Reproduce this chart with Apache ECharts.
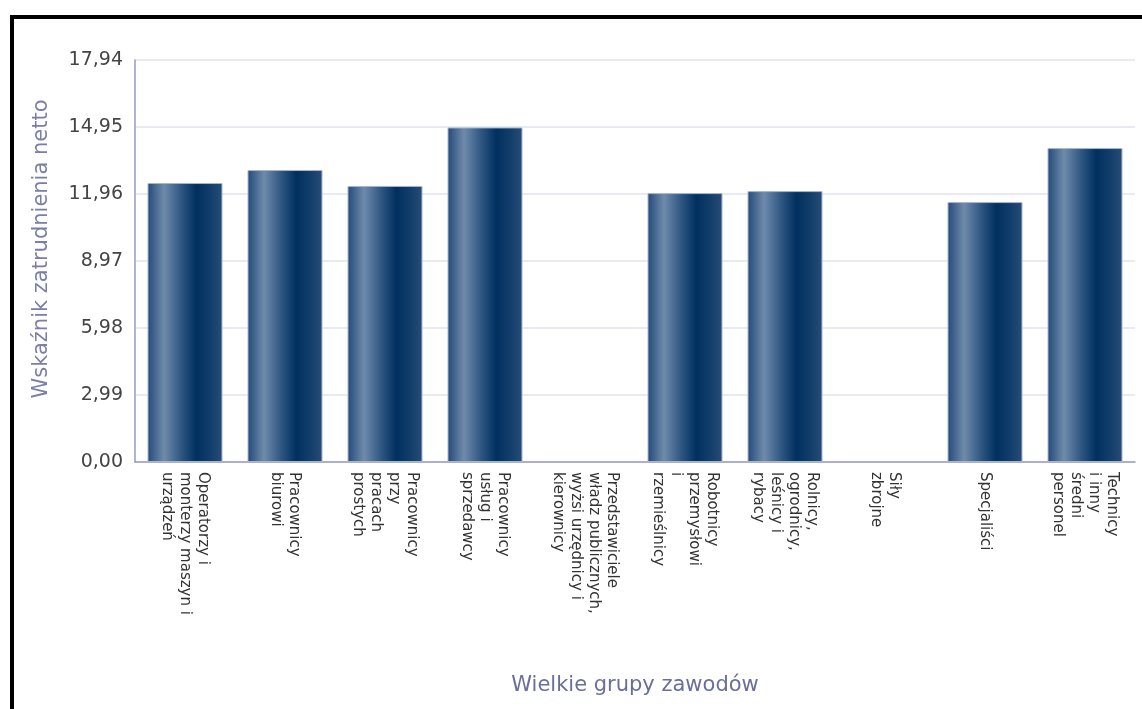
<!DOCTYPE html>
<html><head><meta charset="utf-8">
<script src="https://cdn.jsdelivr.net/npm/echarts@6/dist/echarts.min.js"></script>
<style>
html,body{margin:0;padding:0;background:#fff;overflow:hidden;}
#frame{position:absolute;left:10px;top:15px;width:1300px;height:900px;border:4px solid #000;box-sizing:border-box;pointer-events:none;z-index:2;}
#chart{position:absolute;left:0;top:0;width:1142px;height:709px;}
</style></head>
<body>
<div id="chart"></div>
<div id="frame"></div>
<script>
var categories = [
  "Operatorzy i\nmonterzy maszyn i\nurządzeń",
  "Pracownicy\nbiurowi",
  "Pracownicy\nprzy\npracach\nprostych",
  "Pracownicy\nusług i\nsprzedawcy",
  "Przedstawiciele\nwładz publicznych,\nwyżsi urzędnicy i\nkierownicy",
  "Robotnicy\nprzemysłowi\ni\nrzemieślnicy",
  "Rolnicy,\nogrodnicy,\nleśnicy i\nrybacy",
  "Siły\nzbrojne",
  "Specjaliści",
  "Technicy\ni inny\nśredni\npersonel"
];
var values = [12.45, 13.03, 12.32, 14.93, null, 12.00, 12.09, null, 11.60, 14.01];
var yMax = 17.94;
var yInterval = 2.99;

var chart = echarts.init(document.getElementById('chart'));
var grad = new echarts.graphic.LinearGradient(0, 0, 1, 0, [
  {offset: 0, color: '#24497a'},
  {offset: 0.22, color: '#6f8bab'},
  {offset: 0.45, color: '#2f5682'},
  {offset: 0.65, color: '#00305f'},
  {offset: 0.85, color: '#143f6c'},
  {offset: 1, color: '#284c77'}
]);
chart.setOption({
  animation: false,
  grid: {left: 135, top: 60, width: 1000, height: 402, containLabel: false},
  xAxis: {
    type: 'category',
    data: categories,
    name: 'Wielkie grupy zawodów',
    nameLocation: 'middle',
    nameGap: 213,
    nameTextStyle: {color: '#6a6f9a', fontSize: 21, fontFamily: 'DejaVu Sans'},
    axisLine: {lineStyle: {color: '#9a9cc0', width: 1.5}},
    axisTick: {show: false},
    axisLabel: {
      rotate: -90, interval: 0, color: '#333', fontSize: 15,
      fontFamily: 'DejaVu Sans', lineHeight: 18, margin: 10
    }
  },
  yAxis: {
    type: 'value',
    min: 0, max: yMax, interval: yInterval,
    name: 'Wskaźnik zatrudnienia netto',
    nameLocation: 'middle',
    nameGap: 83,
    nameTextStyle: {color: '#7a7ea8', fontSize: 21, fontFamily: 'DejaVu Sans', padding: [0, 0, 0, 24]},
    axisLine: {show: true, lineStyle: {color: '#9a9cc0', width: 1.5}},
    axisTick: {show: false},
    splitLine: {lineStyle: {color: '#e2e2ee', width: 1.5}},
    axisLabel: {
      color: '#444', fontSize: 19, fontFamily: 'DejaVu Sans', margin: 12,
      formatter: function (v) { return v.toFixed(2).replace('.', ','); }
    }
  },
  series: [{
    type: 'bar',
    data: values,
    barCategoryGap: '25%',
    itemStyle: {color: grad, borderColor: '#a8b6cc', borderWidth: 1}
  }]
});
</script>
</body></html>
